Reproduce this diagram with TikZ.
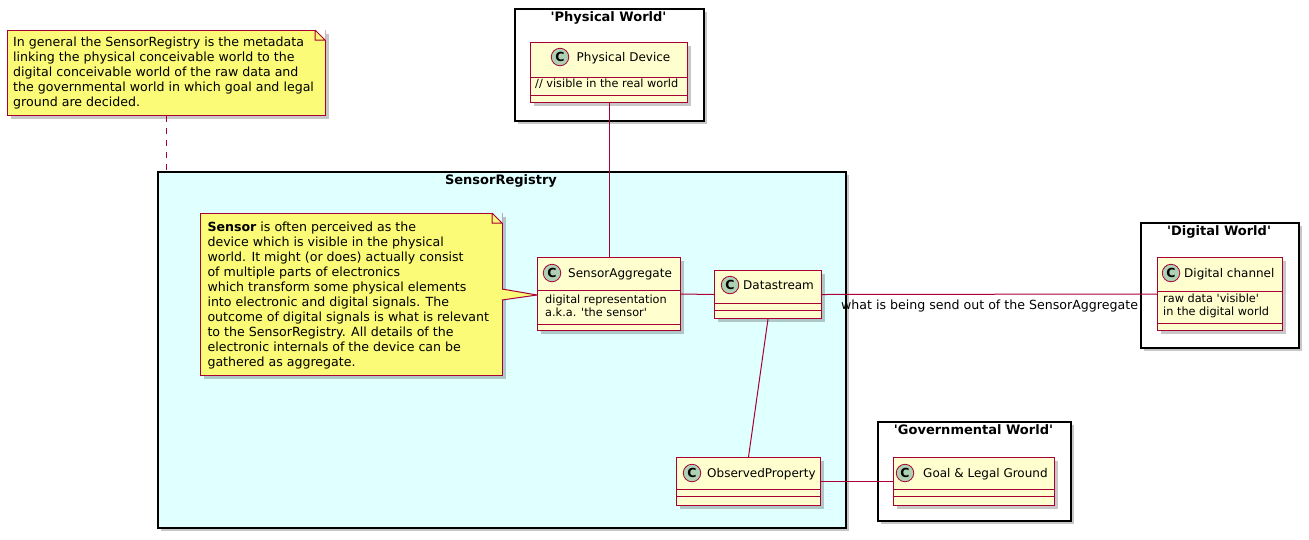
\documentclass[tikz,border=0pt]{standalone}
\usepackage{fontspec}
\setmainfont{DejaVu Sans}
\usetikzlibrary{shadows,calc}
\definecolor{umlred}{HTML}{A80036}
\definecolor{clsfill}{HTML}{FEFECE}
\definecolor{circfill}{HTML}{ADD1B2}
\definecolor{notefill}{HTML}{FBFB77}
\definecolor{regfill}{HTML}{E0FFFF}
\newcommand{\sq}{\textquotesingle}
\tikzset{
 shad/.style={drop shadow={shadow xshift=3pt,shadow yshift=-3pt,fill=black,opacity=0.22}},
 pkg/.style={draw=black,line width=1.5pt,shad,inner sep=0pt,anchor=north west},
 pkgtitle/.style={font=\fontsize{13}{15}\selectfont\bfseries,inner sep=0pt,anchor=base},
 clsbox/.style={draw=umlred,line width=1pt,fill=clsfill,shad,inner sep=0pt,anchor=north west},
 clssep/.style={draw=umlred,line width=1pt},
 circ/.style={circle,draw=umlred,line width=0.8pt,fill=circfill,minimum size=17.5pt,inner sep=0pt,font=\fontsize{12.5}{12.5}\selectfont\bfseries},
 clsname/.style={font=\fontsize{12}{14}\selectfont,inner sep=0pt,anchor=base west},
 field/.style={font=\fontsize{11.3}{13}\selectfont,inner sep=0pt,anchor=base west},
 notebox/.style={draw=umlred,line width=1pt,fill=notefill,shad,inner sep=0pt,anchor=north west},
 notetext/.style={font=\fontsize{12.6}{15}\selectfont,inner sep=0pt,anchor=north west,align=left},
 conn/.style={draw=umlred,line width=1pt},
 elabel/.style={font=\fontsize{12.6}{15}\selectfont,inner sep=0pt,anchor=base},
}
\begin{document}
\begin{tikzpicture}[x=1pt,y=-1pt]
\useasboundingbox (0,0) rectangle (1309,539);
% ---------- packages ----------
\node[pkg,fill=white,minimum width=189pt,minimum height=112pt] (pw) at (514,8) {};
\node[pkgtitle] (pwt) at (608.5,21.5) {\sq Physical World\sq};
\node[pkg,fill=regfill,minimum width=688pt,minimum height=356pt] (sr) at (157,171) {};
\node[pkgtitle] (srt) at (501,184.5) {SensorRegistry};
\node[pkg,fill=white,minimum width=158pt,minimum height=125pt] (dw) at (1140,222) {};
\node[pkgtitle] (dwt) at (1219,235.5) {\sq Digital World\sq};
\node[pkg,fill=white,minimum width=193pt,minimum height=99pt] (gw) at (877,421) {};
\node[pkgtitle] (gwt) at (973.5,434.5) {\sq Governmental World\sq};
% ---------- note 1 ----------
\node[notebox,minimum width=318pt,minimum height=85pt] (n1) at (7,30) {};
\fill[white] (315,29.3) -- (325.7,29.3) -- (325.7,40) -- cycle;
\draw[umlred,line width=1pt] (315,30) -- (325,40) (315,30) -- (315,40) -- (325,40);
\node[notetext] (n1t) at (13,36.9) {In general the SensorRegistry is the metadata\\linking the physical conceivable world to the\\digital conceivable world of the raw data and\\the governmental world in which goal and legal\\ground are decided.};
% ---------- note 2 ----------
\node[notebox,minimum width=302pt,minimum height=162pt] (n2) at (200,213) {};
\fill[regfill] (492,212.3) -- (502.7,212.3) -- (502.7,223) -- cycle;
\draw[umlred,line width=1pt] (492,213) -- (502,223) (492,213) -- (492,223) -- (502,223);
\fill[notefill] (501,289) -- (537,295) -- (501,300) -- cycle;
\draw[umlred,line width=1pt] (502,289) -- (537,295) -- (502,300);
\node[notetext] (n2t) at (207.3,221.4) {\textbf{Sensor} is often perceived as the\\device which is visible in the physical\\world. It might (or does) actually consist\\of multiple parts of electronics\\which transform some physical elements\\into electronic and digital signals. The\\outcome of digital signals is what is relevant\\to the SensorRegistry. All details of the\\electronic internals of the device can be\\gathered as aggregate.};
% ---------- classes ----------
% Physical Device
\node[clsbox,minimum width=157pt,minimum height=60pt] (pd) at (530,42) {};
\draw[clssep] (530,77) -- (687,77) (530,95) -- (687,95);
\node[circ] (pdc) at (560,57) {C};
\node[clsname] (pdn) at (576.5,61.4) {Physical Device};
\node[field] (pdf) at (535,87.5) {// visible in the real world};
% SensorAggregate
\node[clsbox,minimum width=143pt,minimum height=73pt] (sa) at (537,257) {};
\draw[clssep] (537,290) -- (680,290) (537,324) -- (680,324);
\node[circ] (sac) at (552,273) {C};
\node[clsname] (san) at (568,277.4) {SensorAggregate};
\node[field] (saf1) at (545,303.3) {digital representation};
\node[field] (saf2) at (545,316) {a.k.a. \sq the sensor\sq};
% Datastream
\node[clsbox,minimum width=107pt,minimum height=48pt] (ds) at (714,270) {};
\draw[clssep] (714,303) -- (821,303) (714,310) -- (821,310);
\node[circ] (dsc) at (730,285) {C};
\node[clsname] (dsn) at (743,289.4) {Datastream};
% Digital channel
\node[clsbox,minimum width=125pt,minimum height=73pt] (dc) at (1157,257) {};
\draw[clssep] (1157,291) -- (1282,291) (1157,323) -- (1282,323);
\node[circ] (dcc) at (1171,273) {C};
\node[clsname] (dcn) at (1184,277.4) {Digital channel};
\node[field] (dcf1) at (1163,302.3) {raw data \sq visible\sq};
\node[field] (dcf2) at (1163,315.5) {in the digital world};
% ObservedProperty
\node[clsbox,minimum width=144pt,minimum height=48pt] (op) at (676,457) {};
\draw[clssep] (676,489) -- (820,489) (676,496) -- (820,496);
\node[circ] (opc) at (692,473) {C};
\node[clsname] (opn) at (707,477.4) {ObservedProperty};
% Goal & Legal Ground
\node[clsbox,minimum width=161pt,minimum height=48pt] (gl) at (893,457) {};
\draw[clssep] (893,489) -- (1054,489) (893,496) -- (1054,496);
\node[circ] (glc) at (905,473) {C};
\node[clsname] (gln) at (923,477.4) {Goal \& Legal Ground};
% ---------- connectors ----------
\draw[conn] (pd.south) -- (pd.south |- sa.north);
\draw[conn] (sa.east) -- (ds.west);
\draw[conn] (ds.east) -- node[elabel,yshift=-15pt] (lbl) {what is being send out of the SensorAggregate} (dc.west);
\draw[conn] (ds.south) -- (op.north);
\draw[conn] (op.east) -- (gl.west);
\draw[umlred,line width=1pt,dash pattern=on 6pt off 6pt] (n1.south) -- (n1.south |- sr.north);
\end{tikzpicture}
\end{document}
